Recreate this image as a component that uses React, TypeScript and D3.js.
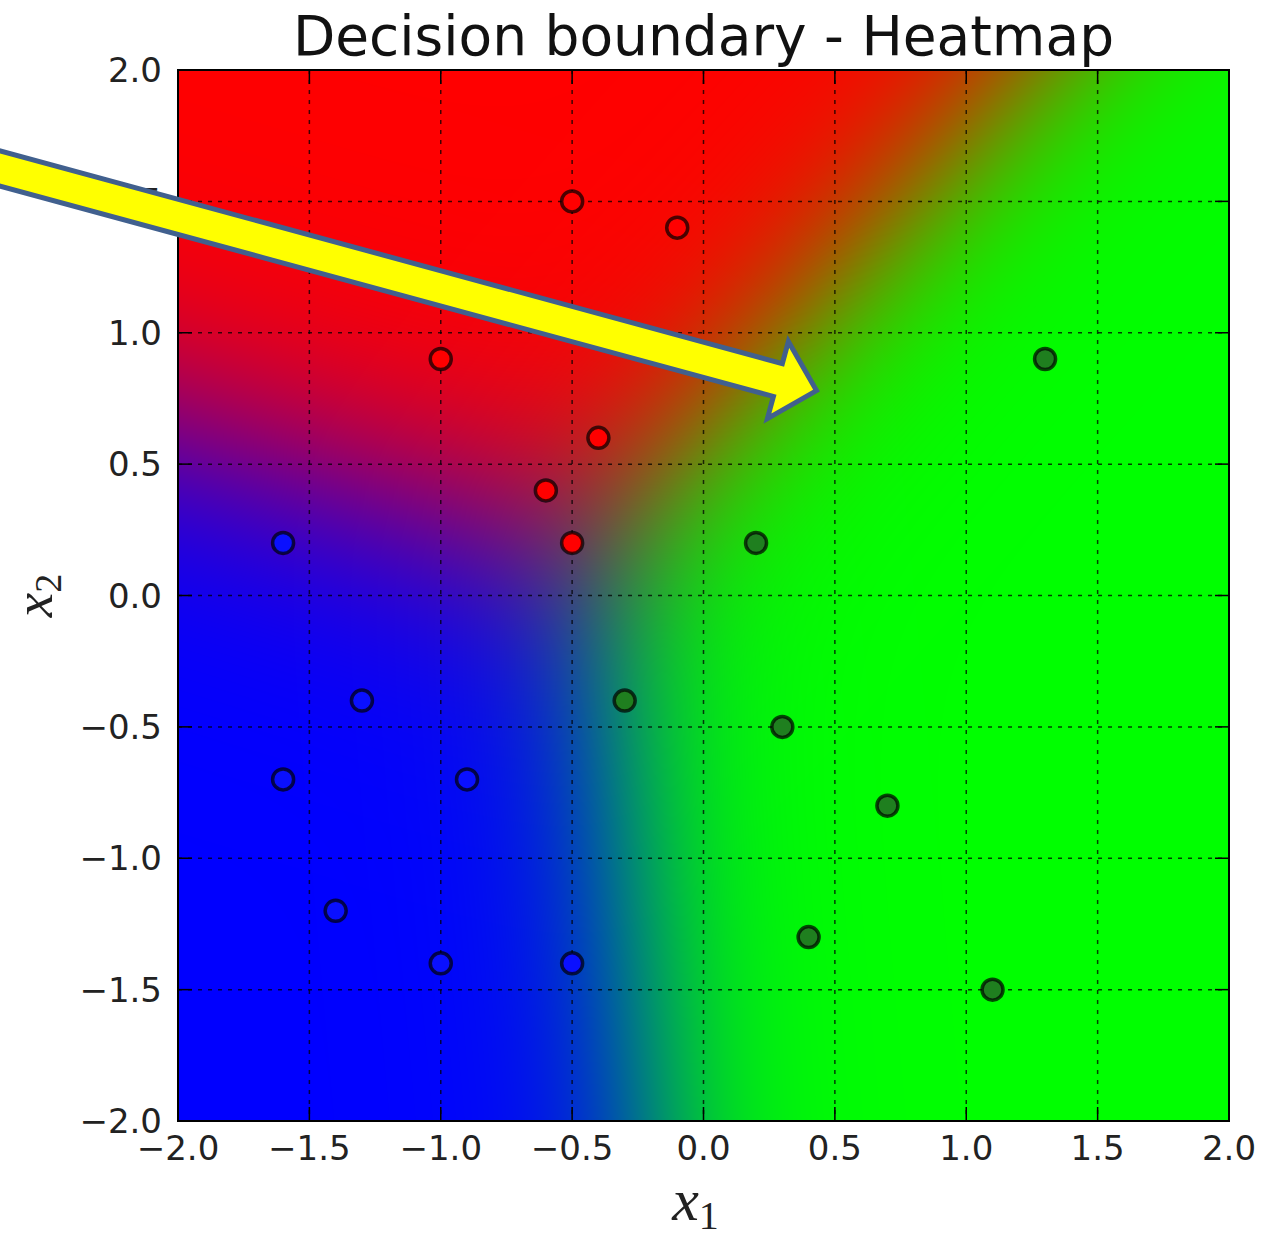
import * as d3 from 'd3';
import React, { useMemo } from 'react';

// tick values for both axes
const ticks = [-2.0, -1.5, -1.0, -0.5, 0.0, 0.5, 1.0, 1.5, 2.0];

// training points
const redPoints = [[-0.5, 1.5], [-0.1, 1.4], [-1.0, 0.9], [-0.4, 0.6], [-0.6, 0.4], [-0.5, 0.2]];
const bluePoints = [[-1.6, 0.2], [-1.3, -0.4], [-1.6, -0.7], [-0.9, -0.7], [-1.4, -1.2], [-1.0, -1.4], [-0.5, -1.4]];
const greenPoints = [[1.3, 0.9], [0.2, 0.2], [-0.3, -0.4], [0.3, -0.5], [0.7, -0.8], [0.4, -1.3], [1.1, -1.5]];

// softmax classifier behind the heatmap: [w_x1, w_x2, bias] per class
const redWeights = [0, 0, 0];
const greenWeights = [4.0, -3.6, 2.16];
const blueWeights = [-1.221, -4.07, 0.122];

// the yellow annotation arrow (tail, tip) in data units
const arrowTail = [-2.75, 1.645];
const arrowTip = [0.43, 0.78];

const W = 1263, H = 1241;
const left = 178, right = 1229, top = 70, bottom = 1121;

const fmt = (v: number) => v.toFixed(1).replace('-', '\u2212');

export default function App() {
  const x = d3.scaleLinear().domain([-2, 2]).range([left, right]);
  const y = d3.scaleLinear().domain([-2, 2]).range([bottom, top]);

  const heat = useMemo(() => {
    const w = right - left, h = bottom - top;
    const canvas = document.createElement('canvas');
    canvas.width = w;
    canvas.height = h;
    const ctx = canvas.getContext('2d')!;
    const img = ctx.createImageData(w, h);
    for (let j = 0; j < h; j++) {
      const v = y.invert(top + j + 0.5);
      for (let i = 0; i < w; i++) {
        const u = x.invert(left + i + 0.5);
        const sr = redWeights[0] * u + redWeights[1] * v + redWeights[2];
        const sg = greenWeights[0] * u + greenWeights[1] * v + greenWeights[2];
        const sb = blueWeights[0] * u + blueWeights[1] * v + blueWeights[2];
        const m = Math.max(sr, sg, sb);
        const er = Math.exp(sr - m), eg = Math.exp(sg - m), eb = Math.exp(sb - m);
        const s = er + eg + eb;
        const k = (j * w + i) * 4;
        img.data[k] = Math.round(255 * er / s);
        img.data[k + 1] = Math.round(255 * eg / s);
        img.data[k + 2] = Math.round(255 * eb / s);
        img.data[k + 3] = 255;
      }
    }
    ctx.putImageData(img, 0, 0);
    return canvas.toDataURL();
  }, []);

  // arrow polygon
  const tx = x(arrowTail[0]), ty = y(arrowTail[1]);
  const hx = x(arrowTip[0]), hy = y(arrowTip[1]);
  const len = Math.hypot(hx - tx, hy - ty);
  const ux = (hx - tx) / len, uy = (hy - ty) / len;
  const px = -uy, py = ux;
  const shaft = 17, head = 40, headLen = 40;
  const bx = hx - ux * headLen, by = hy - uy * headLen;
  const arrowPts = [
    [tx + px * shaft, ty + py * shaft],
    [bx + px * shaft, by + py * shaft],
    [bx + px * head, by + py * head],
    [hx, hy],
    [bx - px * head, by - py * head],
    [bx - px * shaft, by - py * shaft],
    [tx - px * shaft, ty - py * shaft],
  ].map(p => p.join(',')).join(' ');

  const inner = ticks.slice(1, -1);
  const tickLen = 14;

  const dot = (pts: number[][], fill: string, key: string) =>
    pts.map((p, i) => (
      <circle key={key + i} cx={x(p[0])} cy={y(p[1])} r={10.5}
        fill={fill} stroke="#000" strokeOpacity={0.7} strokeWidth={3.5} />
    ));

  return (
    <svg width={W} height={H} style={{ position: 'absolute', left: 0, top: 0, background: '#fff' }}
      fontFamily="DejaVu Sans">
      <text x={(left + right) / 2} y={55} textAnchor="middle" fontSize={55} fill="#111">
        Decision boundary - Heatmap
      </text>

      <image href={heat} x={left} y={top} width={right - left} height={bottom - top}
        preserveAspectRatio="none" />

      {/* dotted grid */}
      <g stroke="#000" strokeOpacity={0.75} strokeWidth={1.5} strokeDasharray="4,6">
        {inner.map(t => <line key={'gx' + t} x1={x(t)} x2={x(t)} y1={top} y2={bottom} />)}
        {inner.map(t => <line key={'gy' + t} x1={left} x2={right} y1={y(t)} y2={y(t)} />)}
      </g>

      {/* inward ticks on all sides */}
      <g stroke="#000" strokeWidth={1.5}>
        {inner.map(t => (
          <g key={'t' + t}>
            <line x1={x(t)} x2={x(t)} y1={bottom} y2={bottom - tickLen} />
            <line x1={x(t)} x2={x(t)} y1={top} y2={top + tickLen} />
            <line x1={left} x2={left + tickLen} y1={y(t)} y2={y(t)} />
            <line x1={right} x2={right - tickLen} y1={y(t)} y2={y(t)} />
          </g>
        ))}
      </g>

      {dot(redPoints, '#ff0000', 'r')}
      {dot(bluePoints, '#0a10ff', 'b')}
      {dot(greenPoints, '#1f7f1f', 'g')}

      <rect x={left} y={top} width={right - left} height={bottom - top}
        fill="none" stroke="#000" strokeWidth={2} />

      <g fontSize={34} fill="#222">
        {ticks.map(t => (
          <text key={'xl' + t} x={x(t)} y={bottom + 39} textAnchor="middle">{fmt(t)}</text>
        ))}
        {ticks.map(t => (
          <text key={'yl' + t} x={left - 16} y={y(t) + 12} textAnchor="end">{fmt(t)}</text>
        ))}
      </g>

      <text x={(left + right) / 2 - 8} y={1220} textAnchor="middle" fontFamily="Liberation Serif" fill="#222">
        <tspan fontSize={60} fontStyle="italic">x</tspan>
        <tspan fontSize={40} dy={9}>1</tspan>
      </text>
      <text transform={`translate(52, ${(top + bottom) / 2}) rotate(-90)`} textAnchor="middle"
        fontFamily="Liberation Serif" fill="#222">
        <tspan fontSize={55} fontStyle="italic">x</tspan>
        <tspan fontSize={38} dy={9}>2</tspan>
      </text>

      <polygon points={arrowPts} fill="#ffff00" stroke="#41608e" strokeWidth={5} strokeLinejoin="miter" />
    </svg>
  );
}
